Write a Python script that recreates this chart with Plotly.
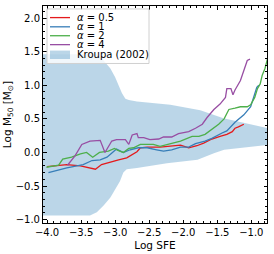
import plotly.graph_objects as go

# ---- data ----
band_x = [-4.10, -3.37, -3.27, -3.17, -3.07, -3.00, -2.93, -2.88, -2.83, -2.68, -2.24, -1.79, -1.55, -1.40, -0.70]
band_lower = [-0.94, -0.94, -0.89, -0.79, -0.67, -0.55, -0.43, -0.30, -0.25, -0.23, -0.16, -0.11, -0.01, 0.04, 0.12]
band_ux = [-4.10, -3.27, -3.17, -3.07, -3.00, -2.95, -2.90, -2.85, -2.80, -2.68, -2.19, -1.75, -1.41, -1.16, -0.70]
band_upper = [1.46, 1.46, 1.37, 1.25, 1.12, 1.00, 0.88, 0.80, 0.78, 0.76, 0.71, 0.63, 0.51, 0.46, 0.35]

red_x = [-4.00, -3.71, -3.51, -3.29, -3.20, -3.07, -2.95, -2.83, -2.75, -2.68, -2.63, -2.53, -2.34, -2.19, -2.04,
         -1.92, -1.80, -1.70, -1.58, -1.46, -1.36, -1.28, -1.24, -1.19, -1.11]
red_y = [-0.21, -0.18, -0.20, -0.25, -0.18, -0.14, -0.11, -0.08, -0.03, 0.01, 0.07, 0.08, 0.08, 0.09, 0.11,
         0.07, 0.10, 0.14, 0.20, 0.24, 0.27, 0.31, 0.36, 0.38, 0.42]

blue_x = [-3.98, -3.71, -3.47, -3.34, -3.22, -3.12, -3.04, -2.98, -2.88, -2.78, -2.66, -2.53, -2.39, -2.29, -2.17,
          -2.04, -1.92, -1.82, -1.68, -1.58, -1.43, -1.36, -1.24, -1.11, -1.01, -0.92, -0.89]
blue_y = [-0.30, -0.23, -0.18, -0.12, -0.11, -0.07, 0.00, 0.05, 0.00, 0.04, 0.07, 0.07, 0.04, 0.02, 0.04,
          0.08, 0.08, 0.13, 0.17, 0.21, 0.29, 0.32, 0.45, 0.56, 0.68, 0.97, 1.00]

green_x = [-4.01, -3.83, -3.77, -3.64, -3.51, -3.42, -3.33, -3.23, -3.10, -3.01, -2.96, -2.88, -2.80, -2.73, -2.63,
           -2.44, -2.34, -2.22, -2.04, -1.87, -1.77, -1.68, -1.58, -1.48, -1.40, -1.33, -1.24, -1.16, -1.06, -1.01,
           -0.95, -0.91, -0.87, -0.84, -0.80, -0.75]
green_y = [-0.22, -0.19, -0.10, -0.07, -0.02, 0.00, -0.07, 0.00, 0.02, 0.06, 0.03, 0.00, 0.06, 0.07, 0.12,
           0.12, 0.09, 0.12, 0.17, 0.24, 0.24, 0.27, 0.34, 0.42, 0.50, 0.64, 0.66, 0.68, 0.68, 0.71,
           0.82, 0.95, 1.02, 1.15, 1.25, 1.44]

purple_x = [-3.70, -3.59, -3.49, -3.37, -3.22, -3.15, -3.05, -2.98, -2.85, -2.80, -2.75, -2.68, -2.66, -2.58, -2.49,
            -2.36, -2.29, -2.17, -2.07, -2.02, -1.92, -1.82, -1.72, -1.65, -1.55, -1.46, -1.38, -1.36, -1.30, -1.27,
            -1.24, -1.16, -1.11, -1.06, -1.02]
purple_y = [-0.19, -0.05, 0.12, 0.17, 0.18, 0.00, 0.17, 0.19, 0.19, 0.12, 0.26, 0.28, 0.22, 0.22, 0.19,
            0.20, 0.23, 0.23, 0.28, 0.29, 0.31, 0.36, 0.42, 0.52, 0.64, 0.72, 0.82, 0.95, 0.95, 0.86,
            0.93, 1.07, 1.22, 1.37, 1.39]

series = [
    ("<i>α</i> = 0.5", red_x, red_y, "#e41a1c"),
    ("<i>α</i> = 1", blue_x, blue_y, "#377eb8"),
    ("<i>α</i> = 2", green_x, green_y, "#4daf4a"),
    ("<i>α</i> = 4", purple_x, purple_y, "#984ea3"),
]
band_label = "Kroupa (2002)"
band_color = "rgba(31,119,180,0.3)"

# ---- figure ----
fig = go.Figure()
poly_x = band_x + band_ux[::-1]
poly_y = band_lower + band_upper[::-1]
fig.add_trace(go.Scatter(x=poly_x, y=poly_y, fill="toself", fillcolor=band_color,
                         line=dict(width=0), mode="lines", showlegend=False, hoverinfo="skip"))
for name, xs, ys, c in series:
    fig.add_trace(go.Scatter(x=xs, y=ys, mode="lines", line=dict(color=c, width=1.3),
                             name=name, showlegend=False))

font = "DejaVu Sans, sans-serif"
axis_common = dict(
    showline=True, linecolor="black", linewidth=1, mirror="allticks",
    ticks="inside", ticklen=3.5, tickwidth=1, tickcolor="black",
    showgrid=False, zeroline=False, tickformat=".1f",
    tickfont=dict(family=font, size=10, color="black"),
    minor=dict(ticks="inside", ticklen=2, tickwidth=0.8, tickcolor="black", dtick=0.1, showgrid=False),
)
fig.update_xaxes(range=[-4.06, -0.77], dtick=0.5, tick0=0,
                 title=dict(text="Log SFE", font=dict(family=font, size=10.5, color="black"), standoff=4),
                 **axis_common)
fig.update_yaxes(range=[-1.05, 2.18], dtick=0.5, tick0=0,
                 title=dict(text="Log M<sub>50</sub> [M<sub>⊙</sub>]", font=dict(family=font, size=10.5, color="black"),
                            standoff=2),
                 **axis_common)

# ---- manual legend (matplotlib style) ----
W, L, T, H = 224, 43, 5, 219
def px(x):
    return (x - L) / W
def py(y):
    return (T + H - y) / H

shapes = [dict(type="rect", xref="paper", yref="paper", x0=px(47), x1=px(149), y0=py(63), y1=py(8),
               line=dict(color="#d0d0d0", width=1), fillcolor="rgba(255,255,255,0.8)", layer="above")]
annotations = []
rows = [16.7, 26, 35, 44]
for (name, _, _, c), r in zip(series, rows):
    shapes.append(dict(type="line", xref="paper", yref="paper", x0=px(50), x1=px(70), y0=py(r), y1=py(r),
                       line=dict(color=c, width=1.3)))
    annotations.append(dict(text=name, xref="paper", yref="paper", x=px(76), y=py(r), xanchor="left",
                            yanchor="middle", showarrow=False, borderpad=0,
                            font=dict(family=font, size=10, color="black")))
shapes.append(dict(type="rect", xref="paper", yref="paper", x0=px(50), x1=px(70), y0=py(58.5), y1=py(50),
                   line=dict(width=0), fillcolor=band_color))
annotations.append(dict(text=band_label, xref="paper", yref="paper", x=px(76), y=py(54), xanchor="left",
                        yanchor="middle", showarrow=False, borderpad=0,
                        font=dict(family=font, size=10, color="black")))

fig.update_layout(width=274, height=254, margin=dict(l=43, r=7, t=5, b=30),
                  paper_bgcolor="white", plot_bgcolor="white",
                  shapes=shapes, annotations=annotations, showlegend=False)
fig.write_html("out.html", config={"displayModeBar": False},
               post_script="document.body.style.margin='0';document.body.style.overflow='hidden';")
